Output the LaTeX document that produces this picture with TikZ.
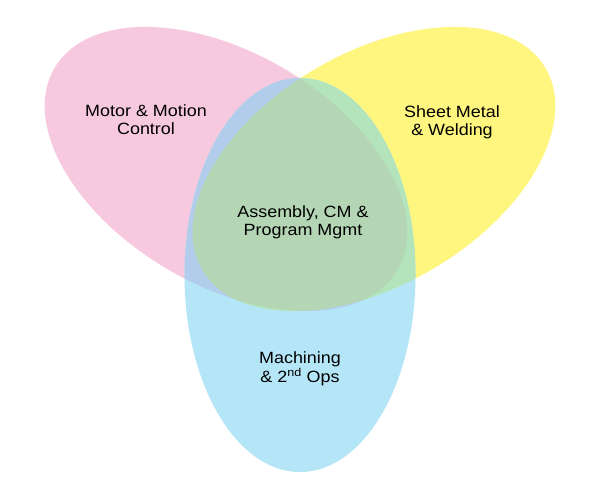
\documentclass[tikz,border=0pt]{standalone}
\usepackage{fontspec}
\setmainfont{Liberation Sans}[FakeStretch=1.1]
\definecolor{pinkc}{RGB}{247,201,222}
\definecolor{yellowc}{RGB}{255,246,128}
\definecolor{bluec}{RGB}{181,230,248}
\definecolor{lavc}{RGB}{178,204,236}
\definecolor{grnc}{RGB}{179,228,187}
\definecolor{tric}{RGB}{180,214,180}
\tikzset{
  lbl/.style={align=center,inner sep=0pt,anchor=base,text=black,
    font=\fontsize{16.3}{17.7}\selectfont},
  pinkshape/.style={shift={(226,169)},rotate=-30.5},
  yellowshape/.style={shift={(374,169)},rotate=30.5},
  blueshape/.style={shift={(300,275)}}
}
\begin{document}
\begin{tikzpicture}[x=1pt,y=-1pt]
\fill[white] (0,0) rectangle (600,500);
\useasboundingbox (0,0) rectangle (600,500);
% single sets
\fill[pinkc,pinkshape] (0,0) ellipse [x radius=199,y radius=116];
\fill[yellowc,yellowshape] (0,0) ellipse [x radius=199,y radius=116];
\begin{scope}
  \clip[pinkshape] (0,0) ellipse [x radius=199,y radius=116];
  \fill[tric,yellowshape] (0,0) ellipse [x radius=199,y radius=116];
\end{scope}
\fill[bluec,blueshape] (0,0) ellipse [x radius=115.5,y radius=197];
% overlaps with blue
\begin{scope}
  \clip[blueshape] (0,0) ellipse [x radius=115.5,y radius=197];
  \fill[lavc,pinkshape] (0,0) ellipse [x radius=199,y radius=116];
  \fill[grnc,yellowshape] (0,0) ellipse [x radius=199,y radius=116];
  \clip[pinkshape] (0,0) ellipse [x radius=199,y radius=116];
  \fill[tric,yellowshape] (0,0) ellipse [x radius=199,y radius=116];
\end{scope}
% labels (anchor=base is the baseline of the last line)
\node[lbl] (motor) at (146,134.3) {Motor \& Motion\\Control};
\node[lbl] (sheet) at (452,135.7) {Sheet Metal\\\& Welding};
\node[lbl] (assembly) at (303,235.7) {Assembly, CM \&\\Program Mgmt};
\node[lbl] (machining) at (300,382.7) {Machining\\\& 2\textsuperscript{nd} Ops};
\end{tikzpicture}
\end{document}
